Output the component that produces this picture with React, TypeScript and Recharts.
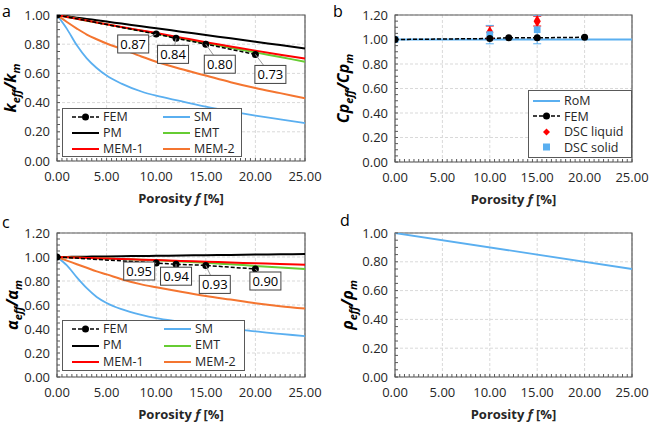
import React from "react";
import {
  ComposedChart,
  Line,
  Scatter,
  XAxis,
  YAxis,
  ZAxis,
  CartesianGrid,
  ReferenceArea,
  ErrorBar,
  Label,
  Legend,
} from "recharts";

// porosity grid used for the model curves [%]
const F_GRID = [0, 1, 2, 3, 4, 5, 6.5, 8.5, 10, 12.5, 15, 17.5, 20, 22.5, 25];

// (a) k_eff / k_m
const K_PM = [1, 0.991, 0.982, 0.973, 0.964, 0.955, 0.941, 0.923, 0.909, 0.886, 0.863, 0.84, 0.817, 0.794, 0.771];
const K_SM = [1, 0.905, 0.792, 0.703, 0.637, 0.585, 0.53, 0.476, 0.447, 0.41, 0.372, 0.34, 0.311, 0.285, 0.26];
const K_EMT = [1, 0.987, 0.974, 0.961, 0.948, 0.936, 0.917, 0.892, 0.873, 0.84, 0.808, 0.776, 0.744, 0.712, 0.68];
const K_MEM1 = [1, 0.987, 0.974, 0.962, 0.949, 0.937, 0.918, 0.894, 0.876, 0.845, 0.814, 0.785, 0.756, 0.728, 0.702];
const K_MEM2 = [1, 0.952, 0.907, 0.866, 0.834, 0.805, 0.768, 0.716, 0.68, 0.63, 0.585, 0.54, 0.5, 0.465, 0.43];

// FEM results
const FEM_F = [0, 10, 12, 15, 20];
const K_FEM = [1.0, 0.87, 0.84, 0.8, 0.73];

// (b) Cp_eff / Cp_m
const ROM_F = [0, 25];
const CP_ROM = [1.0, 1.0];
const CP_FEM = [1.0, 1.008, 1.014, 1.014, 1.018];
const DSC_LIQ_F = [10, 15];
const DSC_LIQ = [1.06, 1.15];
const DSC_LIQ_ERR = [0.05, 0.04];
const DSC_SOL_F = [0, 10, 15];
const DSC_SOL = [1.0, 1.04, 1.08];
const DSC_SOL_ERR = [0, 0.075, 0.115];

// (c) alpha_eff / alpha_m
const A_PM = [1, 1.001, 1.002, 1.003, 1.004, 1.005, 1.0065, 1.0085, 1.01, 1.0125, 1.015, 1.0175, 1.02, 1.0225, 1.025];
const A_SM = [1, 0.93, 0.83, 0.74, 0.667, 0.617, 0.565, 0.517, 0.49, 0.46, 0.43, 0.405, 0.38, 0.36, 0.34];
const A_EMT = [1, 0.997, 0.995, 0.992, 0.99, 0.987, 0.983, 0.978, 0.973, 0.963, 0.952, 0.939, 0.926, 0.913, 0.9];
const A_MEM1 = [1, 0.997, 0.995, 0.992, 0.99, 0.987, 0.983, 0.978, 0.974, 0.967, 0.961, 0.954, 0.948, 0.941, 0.936];
const A_MEM2 = [1, 0.97, 0.94, 0.91, 0.88, 0.855, 0.815, 0.772, 0.748, 0.71, 0.675, 0.645, 0.615, 0.59, 0.57];
const A_FEM = [1.0, 0.95, 0.94, 0.93, 0.9];

// (d) rho_eff / rho_m
const RHO_F = [0, 25];
const RHO = [1.0, 0.75];

// major ticks (labelled, with grid lines)
const X_TICKS = [0, 5, 10, 15, 20, 25];
const Y_TICKS_10 = [0, 0.2, 0.4, 0.6, 0.8, 1.0];
const Y_TICKS_12 = [0, 0.2, 0.4, 0.6, 0.8, 1.0, 1.2];

// minor tick marks along the axes
const X_MINOR = Array.from({ length: 51 }, (_, i) => i * 0.5);
const Y_MINOR_10 = Array.from({ length: 21 }, (_, i) => i * 0.05);
const Y_MINOR_12 = Array.from({ length: 25 }, (_, i) => i * 0.05);

// offsets of the FEM value boxes relative to their point
const TAG_OFFSETS_A: (number[] | null)[] = [null, [-23, 10], [-3, 16], [14, 20], [15, 20]];
const TAG_OFFSETS_C: (number[] | null)[] = [null, [-17, 8], [0, 12], [9, 19], [10, 12]];

const FONT = "'Open Sans', sans-serif";
const TXT = "#262626";
const FRAME = "#595959";
const C_BLUE = "#5aaff0";
const C_GREEN = "#66cc33";
const C_RED = "#ff0000";
const C_ORANGE = "#f47530";

const pts = (xs: number[], ys: number[]) => xs.map((x, i) => ({ x, y: ys[i] }));
const errPts = (xs: number[], ys: number[], es: number[]) =>
  xs.map((x, i) => ({ x, y: ys[i], err: es[i] }));

type LegendItem = {
  name: string;
  color: string;
  dashed?: boolean;
  line?: boolean;
  marker?: "circle" | "diamond" | "square";
};

function Swatch({ item }: { item: LegendItem }) {
  const { color, dashed, line, marker } = item;
  return (
    <svg width={27} height={10} style={{ flex: "none" }}>
      {line && (
        <line x1={0} y1={5} x2={27} y2={5} stroke={color} strokeWidth={dashed ? 1.5 : 2} strokeDasharray={dashed ? "4 2" : undefined} />
      )}
      {marker === "circle" && <circle cx={13.5} cy={5} r={3.5} fill={color} />}
      {marker === "diamond" && <polygon points="13.5,1.5 17,5 13.5,8.5 10,5" fill={color} />}
      {marker === "square" && <rect x={10} y={1.5} width={7} height={7} fill={color} />}
    </svg>
  );
}

function LegendBox({ items, columns, colWidth, padLeft, rowH }: { items: LegendItem[]; columns: number; colWidth: number; padLeft: number; rowH: number }) {
  return (
    <div
      style={{
        width: "100%",
        height: "100%",
        boxSizing: "border-box",
        border: `1px solid ${FRAME}`,
        background: "#fff",
        display: "grid",
        gridTemplateColumns: `repeat(${columns}, ${colWidth}px)`,
        gridAutoRows: `${rowH}px`,
        alignContent: "center",
        paddingLeft: padLeft,
        fontFamily: FONT,
        fontSize: 12.5,
        lineHeight: `${rowH}px`,
        color: TXT,
      }}
    >
      {items.map((it) => (
        <div key={it.name} style={{ display: "flex", alignItems: "center", whiteSpace: "nowrap" }}>
          <Swatch item={it} />
          <span style={{ marginLeft: 4 }}>{it.name}</span>
        </div>
      ))}
    </div>
  );
}

const MODEL_LEGEND: LegendItem[] = [
  { name: "FEM", color: "#000", dashed: true, line: true, marker: "circle" },
  { name: "SM", color: C_BLUE, line: true },
  { name: "PM", color: "#000", line: true },
  { name: "EMT", color: C_GREEN, line: true },
  { name: "MEM-1", color: C_RED, line: true },
  { name: "MEM-2", color: C_ORANGE, line: true },
];

const CP_LEGEND: LegendItem[] = [
  { name: "RoM", color: C_BLUE, line: true },
  { name: "FEM", color: "#000", dashed: true, line: true, marker: "circle" },
  { name: "DSC liquid", color: C_RED, marker: "diamond" },
  { name: "DSC solid", color: C_BLUE, marker: "square" },
];

function FemTag(props: any) {
  const { x, y, index, value, offsets } = props;
  const off = offsets[index];
  if (!off) return null;
  const cx = x + off[0];
  const cy = y + off[1];
  return (
    <g>
      <line x1={x} y1={y} x2={cx} y2={cy} stroke="#999" strokeWidth={1} />
      <rect x={cx - 15.5} y={cy - 9} width={31} height={18} fill="#fff" stroke="#404040" strokeWidth={1} />
      <text x={cx} y={cy} dy="0.36em" textAnchor="middle" fontSize={13} fill="#000" fontFamily={FONT}>
        {Number(value).toFixed(2)}
      </text>
    </g>
  );
}

function YTitle({ viewBox, dx, sym }: any) {
  const cx = viewBox.x + dx;
  const cy = viewBox.y + viewBox.height / 2;
  return (
    <text
      transform={`translate(${cx},${cy}) rotate(-90)`}
      textAnchor="middle"
      fontSize={16}
      fontWeight={700}
      fontStyle="italic"
      fill="#000"
      fontFamily={FONT}
      dy="0.35em"
    >
      {sym}
      <tspan fontSize={11} dy={4}>eff</tspan>
      <tspan dy={-4}>/{sym}</tspan>
      <tspan fontSize={11} dy={4}>m</tspan>
    </text>
  );
}

function XTitle({ viewBox }: any) {
  return (
    <text x={viewBox.x + viewBox.width / 2} y={viewBox.y + 42} textAnchor="middle" fontSize={13} fontWeight={700} fill={TXT} fontFamily={FONT}>
      Porosity <tspan fontStyle="italic">f</tspan> [%]
    </text>
  );
}

// label only the major ticks, minor ticks keep just their mark
const isMajor = (v: number) => Math.abs(v * 5 - Math.round(v * 5)) < 1e-6;
const fmtX = (v: number) => (Math.abs(v / 5 - Math.round(v / 5)) < 1e-6 ? v.toFixed(2) : "");
const fmtY = (v: number) => (isMajor(v) ? v.toFixed(2) : "");

// shared axes, grid and frame
function frame(yMax: number, yTicks: number[], yMinor: number[], sym: string, titleDx: number, yWidth: number, xHeight: number) {
  return [
    <CartesianGrid key="g" stroke="#d9d9d9" strokeDasharray="3 2" verticalValues={X_TICKS} horizontalValues={yTicks} />,
    <XAxis
      key="x"
      type="number"
      dataKey="x"
      domain={[0, 25]}
      ticks={X_MINOR}
      interval={0}
      allowDataOverflow
      height={xHeight}
      tickFormatter={fmtX}
      tick={{ fill: TXT, fontSize: 13 }}
      tickLine={{ stroke: FRAME }}
      axisLine={false}
      tickSize={-3}
      tickMargin={14}
    >
      <Label content={(p: any) => <XTitle viewBox={p.viewBox} />} />
    </XAxis>,
    <YAxis
      key="y"
      type="number"
      domain={[0, yMax]}
      ticks={yMinor}
      interval={0}
      allowDataOverflow
      width={yWidth}
      tickFormatter={fmtY}
      tick={{ fill: TXT, fontSize: 13 }}
      tickLine={{ stroke: FRAME }}
      axisLine={false}
      tickSize={-3}
      tickMargin={10}
    >
      <Label content={(p: any) => <YTitle viewBox={p.viewBox} dx={titleDx} sym={sym} />} />
    </YAxis>,
    <ReferenceArea key="f" x1={0} x2={25} y1={0} y2={yMax} fill="none" stroke={FRAME} strokeWidth={1.2} ifOverflow="visible" />,
  ];
}

function modelLines(pm: number[], sm: number[], emt: number[], mem1: number[], mem2: number[], fem: number[], offsets: (number[] | null)[]) {
  return [
    <Line key="sm" data={pts(F_GRID, sm)} dataKey="y" type="monotone" stroke={C_BLUE} strokeWidth={1.8} dot={false} isAnimationActive={false} />,
    <Line key="mem2" data={pts(F_GRID, mem2)} dataKey="y" type="monotone" stroke={C_ORANGE} strokeWidth={2} dot={false} isAnimationActive={false} />,
    <Line key="pm" data={pts(F_GRID, pm)} dataKey="y" type="monotone" stroke="#000" strokeWidth={2} dot={false} isAnimationActive={false} />,
    <Line key="emt" data={pts(F_GRID, emt)} dataKey="y" type="monotone" stroke={C_GREEN} strokeWidth={2} dot={false} isAnimationActive={false} />,
    <Line key="mem1" data={pts(F_GRID, mem1)} dataKey="y" type="monotone" stroke={C_RED} strokeWidth={2} dot={false} isAnimationActive={false} />,
    <Line
      key="fem"
      data={pts(FEM_F, fem)}
      dataKey="y"
      type="linear"
      stroke="#000"
      strokeWidth={1.5}
      strokeDasharray="4 2"
      dot={{ r: 3.5, fill: "#000", stroke: "none" }}
      isAnimationActive={false}
      label={(p: any) => <FemTag {...p} offsets={offsets} />}
    />,
  ];
}

function PanelLetter({ text, left, top }: { text: string; left: number; top: number }) {
  return (
    <div style={{ position: "absolute", left, top, fontSize: 16, lineHeight: "16px", fontFamily: FONT, color: "#000" }}>{text}</div>
  );
}

export default function App() {
  return (
    <div style={{ position: "absolute", left: 0, top: 0, width: 652, height: 427, background: "#fff", fontFamily: FONT }}>
      {/* a */}
      <div style={{ position: "absolute", left: 0, top: 0 }}>
        <ComposedChart width={330} height={214} margin={{ top: 15, right: 25, bottom: 0, left: 0 }}>
          {frame(1.0, Y_TICKS_10, Y_MINOR_10, "k", 10, 57, 53)}
          {modelLines(K_PM, K_SM, K_EMT, K_MEM1, K_MEM2, K_FEM, TAG_OFFSETS_A)}
          <Legend
            layout="horizontal"
            verticalAlign="middle"
            align="center"
            wrapperStyle={{ left: 62, top: 108, width: 180, height: 49 }}
            content={() => <LegendBox items={MODEL_LEGEND} columns={2} colWidth={91} padLeft={9} rowH={16} />}
          />
        </ComposedChart>
      </div>

      {/* b */}
      <div style={{ position: "absolute", left: 330, top: 0 }}>
        <ComposedChart width={322} height={214} margin={{ top: 15, right: 20, bottom: 0, left: 0 }}>
          {frame(1.2, Y_TICKS_12, Y_MINOR_12, "Cp", 13, 65, 52)}
          <ZAxis range={[45, 45]} />
          <Line data={pts(ROM_F, CP_ROM)} dataKey="y" type="linear" stroke={C_BLUE} strokeWidth={1.8} dot={false} isAnimationActive={false} />
          <Line
            data={pts(FEM_F, CP_FEM)}
            dataKey="y"
            type="linear"
            stroke="#000"
            strokeWidth={1.5}
            strokeDasharray="4 2"
            dot={{ r: 3.5, fill: "#000", stroke: "none" }}
            isAnimationActive={false}
          />
          <Scatter data={errPts(DSC_LIQ_F, DSC_LIQ, DSC_LIQ_ERR)} dataKey="y" shape="diamond" fill={C_RED} isAnimationActive={false}>
            <ErrorBar dataKey="err" direction="y" width={4} stroke={C_RED} strokeWidth={1} />
          </Scatter>
          <Scatter data={errPts(DSC_SOL_F, DSC_SOL, DSC_SOL_ERR)} dataKey="y" shape="square" fill={C_BLUE} isAnimationActive={false}>
            <ErrorBar dataKey="err" direction="y" width={4} stroke={C_BLUE} strokeWidth={1} />
          </Scatter>
          <Legend
            layout="horizontal"
            verticalAlign="middle"
            align="center"
            wrapperStyle={{ left: 198, top: 90, width: 104, height: 68 }}
            content={() => <LegendBox items={CP_LEGEND} columns={1} colWidth={100} padLeft={4} rowH={15.5} />}
          />
        </ComposedChart>
      </div>

      {/* c */}
      <div style={{ position: "absolute", left: 0, top: 214 }}>
        <ComposedChart width={330} height={213} margin={{ top: 19, right: 25, bottom: 0, left: 0 }}>
          {frame(1.2, Y_TICKS_12, Y_MINOR_12, "α", 12, 57, 50)}
          {modelLines(A_PM, A_SM, A_EMT, A_MEM1, A_MEM2, A_FEM, TAG_OFFSETS_C)}
          <Legend
            layout="horizontal"
            verticalAlign="middle"
            align="center"
            wrapperStyle={{ left: 62, top: 106, width: 183, height: 51 }}
            content={() => <LegendBox items={MODEL_LEGEND} columns={2} colWidth={92} padLeft={9} rowH={16.5} />}
          />
        </ComposedChart>
      </div>

      {/* d */}
      <div style={{ position: "absolute", left: 330, top: 214 }}>
        <ComposedChart width={322} height={213} margin={{ top: 19, right: 20, bottom: 0, left: 0 }}>
          {frame(1.0, Y_TICKS_10, Y_MINOR_10, "ρ", 17, 65, 50)}
          <Line data={pts(RHO_F, RHO)} dataKey="y" type="linear" stroke={C_BLUE} strokeWidth={1.8} dot={false} isAnimationActive={false} />
        </ComposedChart>
      </div>

      <PanelLetter text="a" left={2} top={3} />
      <PanelLetter text="b" left={333} top={3} />
      <PanelLetter text="c" left={2} top={214} />
      <PanelLetter text="d" left={340} top={212} />
    </div>
  );
}
